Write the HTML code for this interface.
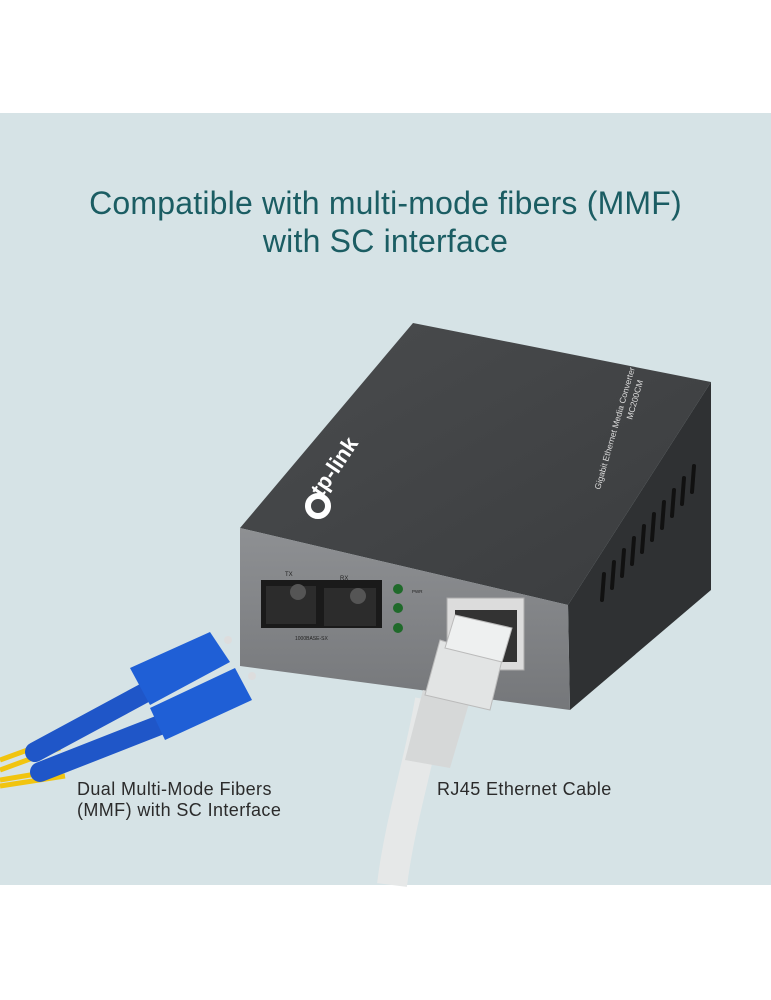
<!DOCTYPE html>
<html><head><meta charset="utf-8"><style>
html,body{margin:0;padding:0;background:#fff;}
body{width:771px;height:1000px;position:relative;overflow:hidden;font-family:"Liberation Sans",sans-serif;}
.panel{position:absolute;left:0;top:113px;width:771px;height:772px;background:#d6e3e6;}
.title{position:absolute;left:0;width:771px;text-align:center;color:#1b5d63;font-size:32px;line-height:38px;top:184px;letter-spacing:0.2px;}
.lbl{position:absolute;color:#2b2b2b;font-size:18px;line-height:21px;letter-spacing:0.4px;}
svg{position:absolute;left:0;top:0;}
</style></head><body>
<div class="panel"></div>
<div class="title">Compatible with multi-mode fibers (MMF)<br>with SC interface</div>
<svg width="771" height="1000" viewBox="0 0 771 1000">
<defs>
<linearGradient id="top" x1="0" y1="0" x2="1" y2="1"><stop offset="0" stop-color="#4a4c4e"/><stop offset="1" stop-color="#3a3c3e"/></linearGradient>
<linearGradient id="front" x1="0" y1="0" x2="0" y2="1"><stop offset="0" stop-color="#8e9093"/><stop offset="1" stop-color="#75777a"/></linearGradient>
</defs>
<polygon points="240,528 413,323 711,382 568,605" fill="url(#top)"/>
<polygon points="568,605 711,382 711,590 570,710" fill="#2f3133"/>
<g stroke="#111" stroke-width="4" stroke-linecap="round">
<line x1="604" y1="574" x2="602" y2="600"/><line x1="614" y1="562" x2="612" y2="588"/><line x1="624" y1="550" x2="622" y2="576"/><line x1="634" y1="538" x2="632" y2="564"/><line x1="644" y1="526" x2="642" y2="552"/><line x1="654" y1="514" x2="652" y2="540"/><line x1="664" y1="502" x2="662" y2="528"/><line x1="674" y1="490" x2="672" y2="516"/><line x1="684" y1="478" x2="682" y2="504"/><line x1="694" y1="466" x2="692" y2="492"/>
</g>
<polygon points="240,528 568,605 570,710 240,666" fill="url(#front)"/>
<rect x="261" y="580" width="121" height="48" fill="#1a1a1a"/>
<rect x="266" y="586" width="50" height="38" fill="#2c2c2c"/>
<rect x="324" y="588" width="52" height="38" fill="#2c2c2c"/>
<circle cx="298" cy="592" r="8" fill="#555"/><circle cx="358" cy="596" r="8" fill="#555"/>
<text x="285" y="576" font-size="6" fill="#222">TX</text><text x="340" y="580" font-size="6" fill="#222">RX</text>
<text x="295" y="640" font-size="5" fill="#222">1000BASE-SX</text>
<circle cx="398" cy="589" r="5" fill="#1f6a2a"/><circle cx="398" cy="608" r="5" fill="#1f6a2a"/><circle cx="398" cy="628" r="5" fill="#1f6a2a"/>
<text x="412" y="593" font-size="4.5" fill="#222">PWR</text>
<rect x="447" y="598" width="77" height="72" fill="#dcdcdc" stroke="#aaa"/>
<rect x="455" y="610" width="62" height="52" fill="#333"/>
<g transform="translate(322,498) rotate(-56)">
<text x="0" y="0" font-size="22" fill="#fff" font-weight="bold">tp-link</text>
</g>
<circle cx="318" cy="506" r="10" fill="none" stroke="#fff" stroke-width="6"/>
<g transform="translate(600,490) rotate(-74)"><text font-size="8.5" fill="#ddd">Gigabit Ethernet Media Converter</text></g>
<g transform="translate(632,420) rotate(-74)"><text font-size="8.5" fill="#ddd">MC200CM</text></g>
<path d="M 430 700 C 420 760 400 820 392 885" stroke="#e6e8e8" stroke-width="30" fill="none"/>
<path d="M 423 690 L 405 760 L 450 768 L 470 700 Z" fill="#d6d8d8"/>
<polygon points="440,640 502,660 490,710 425,695" fill="#e2e4e4" stroke="#bbb"/>
<polygon points="455,615 512,628 502,662 445,648" fill="#eef0f0" stroke="#bbb"/>
<path d="M 0 770 L 60 748 M 0 760 L 55 740 M 0 780 L 60 770 M 0 786 L 65 776" stroke="#f1c40f" stroke-width="5" fill="none"/>
<path d="M 35 752 L 150 690" stroke="#1f56c8" stroke-width="20" stroke-linecap="round"/>
<path d="M 40 772 L 160 725" stroke="#1f56c8" stroke-width="20" stroke-linecap="round"/>
<polygon points="130,668 210,632 230,662 150,705" fill="#1f5fd6"/>
<polygon points="150,708 235,668 252,700 165,740" fill="#1f5fd6"/>
<circle cx="228" cy="640" r="4" fill="#ddd"/><circle cx="252" cy="676" r="4" fill="#ddd"/>
</svg>
<div class="lbl" style="left:77px;top:779px;">Dual Multi-Mode Fibers<br>(MMF) with SC Interface</div>
<div class="lbl" style="left:437px;top:779px;">RJ45 Ethernet Cable</div>
</body></html>
